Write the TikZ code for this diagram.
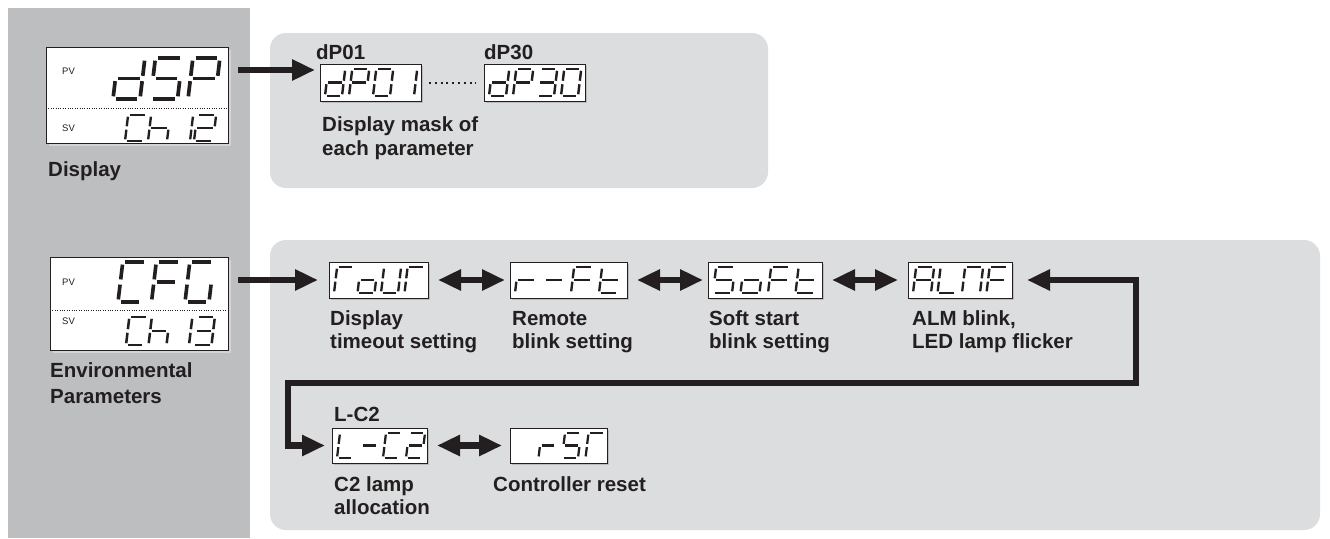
\documentclass[tikz,border=0pt]{standalone}
\usepackage{fontspec}
\setmainfont{Liberation Sans}
\usetikzlibrary{arrows.meta,calc,shadows}
\definecolor{ink}{HTML}{231F20}
\definecolor{colgray}{HTML}{BCBEC0}
\definecolor{panelgray}{HTML}{DCDDDE}
\definecolor{shdA}{HTML}{D3D4D6}
\definecolor{shdB}{HTML}{B9BBBD}
% seven-segment pieces
\expandafter\def\csname segXa\endcsname{\draw (\dG,0)--(\dW-\dG,0);}
\expandafter\def\csname segXb\endcsname{\draw (\dW,\dG)--(\dW,\dM-\dG);}
\expandafter\def\csname segXc\endcsname{\draw (\dW,\dM+\dG)--(\dW,\dH-\dG);}
\expandafter\def\csname segXd\endcsname{\draw (\dG,\dH)--(\dW-\dG,\dH);}
\expandafter\def\csname segXe\endcsname{\draw (0,\dM+\dG)--(0,\dH-\dG);}
\expandafter\def\csname segXf\endcsname{\draw (0,\dG)--(0,\dM-\dG);}
\expandafter\def\csname segXg\endcsname{\draw (\dG,\dM)--(\dW-\dG,\dM);}
\expandafter\def\csname segXn\endcsname{}
\newcommand\segdigit[5]{%
  \begin{scope}[shift={(#1+0.12*#4,#2)},xslant=0.12,line width={0.09*#4*1pt},color=ink]
    \pgfmathsetmacro\dW{#3}\pgfmathsetmacro\dH{#4}%
    \pgfmathsetmacro\dG{0.065*#4}\pgfmathsetmacro\dM{#4/2}%
    \edef\seglist{#5}%
    \foreach \q in \seglist {\csname segX\q\endcsname}%
  \end{scope}}
% #1 x0, #2 top, #3 pitch, #4 width, #5 height, #6 digits
\newcommand\segrow[6]{%
  \foreach \dgt [count=\kk from 0] in {#6}{\segdigit{#1+\kk*#3}{#2}{#4}{#5}{\dgt}}}
\begin{document}
\begin{tikzpicture}[x=1pt,y=-1pt,
  lbl/.style={font=\fontsize{20.5}{24}\selectfont\bfseries, text=ink, inner sep=0pt, anchor=base west},
  pvsv/.style={font=\fontsize{9.5}{11}\selectfont, text=ink, inner sep=0pt, anchor=west},
  bigbox/.style={draw=ink, fill=white, line width=1pt, outer sep=0pt, inner sep=0pt,
     general shadow={fill=shdA, shadow xshift=3pt, shadow yshift=-3pt}},
  segbox/.style={draw=ink, fill=white, line width=1pt, outer sep=0pt, inner sep=0pt,
     general shadow={fill=shdB, shadow xshift=2pt, shadow yshift=-2pt}},
  arr/.style={draw=ink, line width=6.5pt, -{Triangle[length=23pt,width=20pt]}},
  darr/.style={draw=ink, line width=6.5pt, line join=miter,
     {Triangle[length=23pt,width=20pt]}-{Triangle[length=23pt,width=20pt]}},
  dotline/.style={draw=ink, line width=2pt, dash pattern=on 2pt off 3.8pt},
  sep/.style={draw=ink, line width=0.8pt, dash pattern=on 0.8pt off 1.6pt}
]
\useasboundingbox (0,0) rectangle (1330,538);
\fill[white] (0,0) rectangle (1330,538);
% backgrounds
\fill[colgray] (8,8) rectangle (250,538);
\fill[panelgray, rounded corners=16pt] (270,33) rectangle (768,188);
\fill[panelgray, rounded corners=16pt] (270,240) rectangle (1320,530);

% main displays
\node[bigbox, minimum width=182pt, minimum height=96pt] (dsp) at (137,95) {};
\draw[sep] (46,108.5) -- (228,108.5);
\node[pvsv] (dsppv) at (62,71) {PV};
\node[pvsv] (dspsv) at (62,128) {SV};
\segrow{75.5}{58}{37.5}{27}{41}{{n},{b,c,d,e,g},{a,f,g,c,d},{a,b,f,g,e}}
\segrow{125}{115}{23}{19}{26}{{a,f,e,d},{f,e,g,c},{b,c},{a,b,g,e,d}}
\node[lbl] (dsplbl) at (48,176) {Display};

\node[bigbox, minimum width=178pt, minimum height=93pt] (cfg) at (139,303.5) {};
\draw[sep] (50,310) -- (228,310);
\node[pvsv] (cfgpv) at (62,282) {PV};
\node[pvsv] (cfgsv) at (62,321) {SV};
\segrow{84.5}{262}{33.5}{24}{40}{{n},{a,f,e,d},{a,f,g,e},{a,f,e,d,c}}
\segrow{126}{317}{22.5}{18}{28}{{a,f,e,d},{f,e,g,c},{b,c},{a,b,g,c,d}}
\node[lbl] (cfglbl1) at (50,377) {Environmental};
\node[lbl] (cfglbl2) at (50,403) {Parameters};

% top panel
\node[segbox, minimum width=101pt, minimum height=37pt] (dp01) at (370.5,82.5) {};
\node[segbox, minimum width=101pt, minimum height=37pt] (dp30) at (534.5,82.5) {};
\segrow{325}{69}{24}{17}{27}{{b,c,d,e,g},{a,b,f,g,e},{a,b,c,d,e,f},{b,c}}
\segrow{489}{69}{24}{17}{27}{{b,c,d,e,g},{a,b,f,g,e},{a,b,g,c,d},{a,b,c,d,e,f}}
\node[lbl] (dp01lbl) at (316,59) {dP01};
\node[lbl] (dp30lbl) at (484,59) {dP30};
\node[lbl] (masklbl1) at (322,131) {Display mask of};
\node[lbl] (masklbl2) at (322,155) {each parameter};
\draw[dotline, shorten <=8pt, shorten >=8pt] (dp01.east) -- (dp30.west);
\coordinate (a0) at ($(dp01.west)+(0,-12.5)$);
\draw[arr, shorten <=10pt, shorten >=5pt] (dsp.east |- a0) -- (a0);

% bottom panel, first row
\node[segbox, minimum width=99pt, minimum height=36pt] (tout) at (378.5,280) {};
\node[segbox, minimum width=117pt, minimum height=36pt] (rft) at (568.5,280) {};
\node[segbox, minimum width=114pt, minimum height=36pt] (soft) at (765,280) {};
\node[segbox, minimum width=104pt, minimum height=36pt] (almf) at (960,280) {};
\segrow{334}{267}{23.5}{17}{26}{{a,f,e},{c,d,e,g},{b,c,d,e,f},{a,f,e}}
\segrow{515}{267}{28}{19}{26}{{e,g},{g},{a,f,g,e},{d,e,f,g}}
\segrow{713}{267}{27.5}{19}{26}{{a,f,g,c,d},{c,d,e,g},{a,f,g,e},{d,e,f,g}}
\segrow{913}{267}{24.5}{18}{26}{{a,b,c,e,f,g},{d,e,f},{a,b,c,e,f},{a,f,g,e}}
\node[lbl] (toutl1) at (330,325) {Display};
\node[lbl] (toutl2) at (330,348) {timeout setting};
\node[lbl] (rftl1) at (512,325) {Remote};
\node[lbl] (rftl2) at (512,348) {blink setting};
\node[lbl] (softl1) at (709,325) {Soft start};
\node[lbl] (softl2) at (709,348) {blink setting};
\node[lbl] (almfl1) at (912,325) {ALM blink,};
\node[lbl] (almfl2) at (912,348) {LED lamp flicker};

% bottom panel, second row
\node[segbox, minimum width=95pt, minimum height=35pt] (lc2) at (379.5,445.5) {};
\node[segbox, minimum width=97pt, minimum height=35pt] (rst) at (558.5,445.5) {};
\segrow{337}{433}{23}{16}{25}{{d,e,f},{g},{a,f,e,d},{a,b,g,e,d}}
\segrow{515}{433}{23.5}{16}{25}{{n},{e,g},{a,f,g,c,d},{a,f,e}}
\node[lbl] (lc2top) at (334,421) {L-C2};
\node[lbl] (lc2l1) at (334,491) {C2 lamp};
\node[lbl] (lc2l2) at (334,514) {allocation};
\node[lbl] (rstl1) at (493,491) {Controller reset};

% connectors
\draw[arr, shorten <=10pt, shorten >=11pt] (cfg.east |- tout.west) -- (tout.west);
\draw[darr, shorten <=10pt, shorten >=5pt] (tout.east) -- (rft.west);
\draw[darr, shorten <=10pt, shorten >=5pt] (rft.east) -- (soft.west);
\draw[darr, shorten <=10pt, shorten >=10pt] (soft.east) -- (almf.west);
\coordinate (r1) at (1136,383);
\coordinate (r2) at (288,383);
\draw[darr, shorten <=15pt, shorten >=7pt] (almf.east) -| (r1) -- (r2) |- (lc2.west);
\draw[darr, shorten <=10pt, shorten >=8pt] (lc2.east) -- (rst.west);
\end{tikzpicture}
\end{document}
